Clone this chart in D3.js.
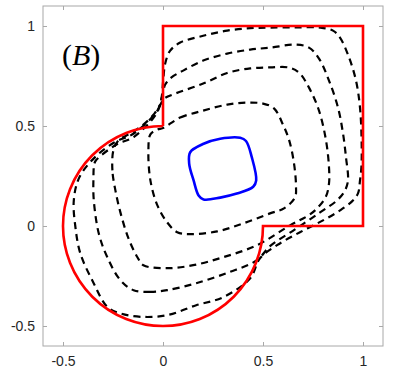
<!DOCTYPE html>
<html>
<head>
<meta charset="utf-8">
<script src="https://cdn.jsdelivr.net/npm/d3@7"></script>
<style>
  body { margin: 0; background: #fff; }
  svg { display: block; }
  .tick text { font-family: "Liberation Sans", Arial, sans-serif; font-size: 14px; fill: #262626; }
</style>
</head>
<body>
<div id="chart"></div>
<script>
// axis ticks
const xTicks = [-0.5, 0, 0.5, 1];
const yTicks = [-0.5, 0, 0.5, 1];

// red boundary : square part (then arc of radius 0.5 around origin)
const squarePart = [[0, 0.5], [0, 1], [1, 1], [1, 0], [0.5, 0]];
const circleCenter = [0, 0];
const circleRadius = 0.5;

// blue inner curve
const blueCurve = [
  [0.136, 0.369], [0.203, 0.411], [0.286, 0.436], [0.386, 0.441], [0.415, 0.425],
  [0.444, 0.344], [0.466, 0.228], [0.451, 0.196], [0.369, 0.162], [0.286, 0.142],
  [0.203, 0.133], [0.178, 0.153], [0.153, 0.228], [0.131, 0.311]
];

// dashed curves, inner to outer
const dashed1 = [
  [0.00, 0.49], [0.086, 0.542], [0.201, 0.577], [0.321, 0.607], [0.421, 0.617],
  [0.500, 0.612], [0.555, 0.588], [0.600, 0.507], [0.631, 0.428], [0.655, 0.313],
  [0.665, 0.198], [0.660, 0.143], [0.605, 0.088], [0.535, 0.063], [0.401, 0.013],
  [0.271, -0.027], [0.136, -0.041], [0.071, -0.031], [0.021, 0.018], [-0.028, 0.103],
  [-0.063, 0.228], [-0.073, 0.378], [-0.063, 0.458], [-0.028, 0.482]
];
const dashed2 = [
  [-0.238, 0.178], [-0.253, 0.278], [-0.248, 0.378], [-0.223, 0.428], [-0.163, 0.463],
  [-0.098, 0.507], [-0.043, 0.562], [-0.013, 0.607], [0.006, 0.637], [0.061, 0.662],
  [0.201, 0.712], [0.321, 0.765], [0.436, 0.788], [0.536, 0.793], [0.630, 0.792],
  [0.680, 0.767], [0.730, 0.692], [0.780, 0.577], [0.815, 0.428], [0.830, 0.293],
  [0.830, 0.213], [0.815, 0.148], [0.775, 0.093], [0.735, 0.058], [0.635, 0.003],
  [0.470, -0.096], [0.301, -0.156], [0.151, -0.196], [0.021, -0.211], [-0.098, -0.196],
  [-0.128, -0.156], [-0.173, -0.061], [-0.213, 0.068]
];
const dashed3 = [
  [0.020, -0.321], [-0.063, -0.329], [-0.147, -0.321], [-0.213, -0.271], [-0.279, -0.155],
  [-0.321, -0.038], [-0.346, 0.128], [-0.348, 0.228], [-0.343, 0.313], [-0.332, 0.332],
  [-0.235, 0.406], [-0.145, 0.446], [-0.033, 0.562], [-0.003, 0.652], [0.011, 0.707],
  [0.041, 0.742], [0.101, 0.777], [0.201, 0.827], [0.321, 0.862], [0.436, 0.882],
  [0.536, 0.892], [0.666, 0.907], [0.730, 0.892], [0.780, 0.837], [0.830, 0.727],
  [0.875, 0.592], [0.900, 0.463], [0.915, 0.343], [0.925, 0.228], [0.910, 0.178],
  [0.870, 0.128], [0.785, 0.068], [0.660, -0.017], [0.535, -0.101], [0.470, -0.171],
  [0.331, -0.231], [0.166, -0.286]
];
const dashed4 = [
  [0.020, -0.446], [-0.113, -0.454], [-0.213, -0.437], [-0.279, -0.404], [-0.346, -0.287],
  [-0.413, -0.138], [-0.438, -0.005], [-0.446, 0.128], [-0.419, 0.242], [-0.342, 0.342],
  [-0.242, 0.419], [-0.150, 0.460], [-0.028, 0.577], [-0.008, 0.637], [0.001, 0.727],
  [0.011, 0.812], [0.036, 0.877], [0.086, 0.917], [0.201, 0.951], [0.321, 0.977],
  [0.436, 0.989], [0.536, 0.992], [0.666, 0.993], [0.785, 0.992], [0.850, 0.977],
  [0.885, 0.942], [0.930, 0.843], [0.965, 0.727], [0.985, 0.592], [0.993, 0.428],
  [0.992, 0.293], [0.985, 0.228], [0.975, 0.163], [0.945, 0.123], [0.885, 0.078],
  [0.800, 0.028], [0.685, -0.031], [0.570, -0.096], [0.485, -0.161], [0.436, -0.261],
  [0.301, -0.356], [0.166, -0.396]
];
const dashedCurves = [dashed1, dashed2, dashed3, dashed4];

const W = 396, H = 370;
const margin = { left: 43, right: 383, top: 6, bottom: 346 };

const svg = d3.select("#chart").append("svg")
  .attr("width", W)
  .attr("height", H);

const x = d3.scaleLinear().domain([-0.6, 1.1]).range([margin.left, margin.right]);
const y = d3.scaleLinear().domain([-0.6, 1.1]).range([margin.bottom, margin.top]);

// box
svg.append("rect")
  .attr("x", margin.left).attr("y", margin.top)
  .attr("width", margin.right - margin.left).attr("height", margin.bottom - margin.top)
  .attr("fill", "none").attr("stroke", "#a8a8a8").attr("stroke-width", 1);

const tickLen = 4;
const gx = svg.append("g").attr("transform", `translate(0,${margin.bottom})`)
  .call(d3.axisBottom(x).tickValues(xTicks).tickSizeInner(-tickLen).tickSizeOuter(0).tickPadding(10));
const gy = svg.append("g").attr("transform", `translate(${margin.left},0)`)
  .call(d3.axisLeft(y).tickValues(yTicks).tickSizeInner(-tickLen).tickSizeOuter(0).tickPadding(8));
const gxt = svg.append("g").attr("transform", `translate(0,${margin.top})`)
  .call(d3.axisTop(x).tickValues(xTicks).tickFormat("").tickSizeInner(-tickLen).tickSizeOuter(0));
const gyr = svg.append("g").attr("transform", `translate(${margin.right},0)`)
  .call(d3.axisRight(y).tickValues(yTicks).tickFormat("").tickSizeInner(-tickLen).tickSizeOuter(0));
[gx, gy, gxt, gyr].forEach(g => {
  g.select(".domain").remove();
  g.selectAll(".tick line").attr("stroke", "#a8a8a8");
});
// plain hyphen minus like the reference
gx.selectAll(".tick text").text(d => String(d));
gy.selectAll(".tick text").text(d => String(d));

// dashed curves
const line = d3.line()
  .x(d => x(d[0]))
  .y(d => y(d[1]))
  .curve(d3.curveCatmullRomClosed.alpha(0.5));

svg.selectAll(".dashed")
  .data(dashedCurves)
  .enter()
  .append("path")
  .attr("class", "dashed")
  .attr("d", line)
  .attr("fill", "none")
  .attr("stroke", "#000")
  .attr("stroke-width", 2.2)
  .attr("stroke-dasharray", "7,5");

// blue curve
svg.append("path")
  .attr("d", line(blueCurve))
  .attr("fill", "none")
  .attr("stroke", "#0000ff")
  .attr("stroke-width", 2.6);

// red boundary
const p = d3.path();
p.moveTo(x(squarePart[0][0]), y(squarePart[0][1]));
squarePart.slice(1).forEach(d => p.lineTo(x(d[0]), y(d[1])));
const r = x(circleRadius) - x(0);
p.arc(x(circleCenter[0]), y(circleCenter[1]), r, 0, 1.5 * Math.PI, false);
svg.append("path")
  .attr("d", p.toString())
  .attr("fill", "none")
  .attr("stroke", "#ff0000")
  .attr("stroke-width", 2.6)
  .attr("stroke-linejoin", "miter");

// panel label
const label = svg.append("text")
  .attr("x", 62).attr("y", 65)
  .attr("font-family", "'Liberation Serif', 'DejaVu Serif', serif")
  .attr("font-size", 30)
  .attr("fill", "#000");
label.append("tspan").text("(");
label.append("tspan").attr("font-style", "italic").text("B");
label.append("tspan").text(")");
</script>
</body>
</html>
